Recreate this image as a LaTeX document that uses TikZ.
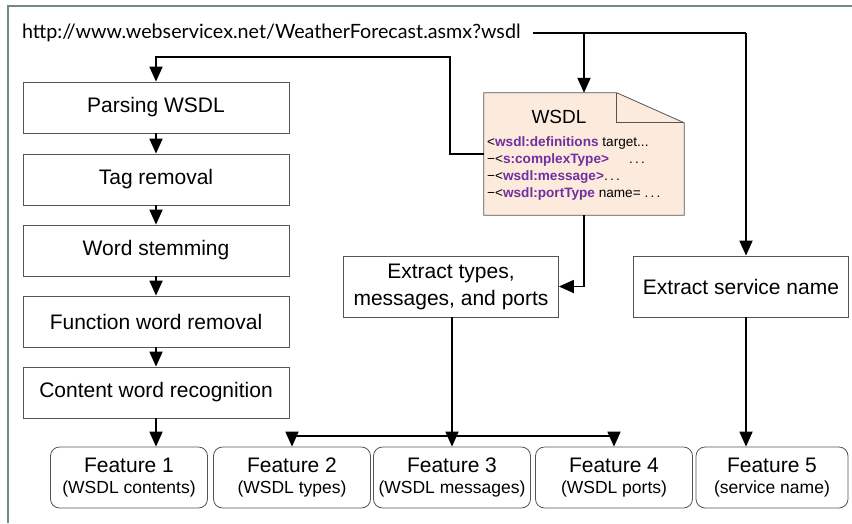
\documentclass[tikz,border=0pt]{standalone}
\usepackage{fontspec}
\setmainfont{Liberation Sans}
\newfontfamily\urlfont{Lato}
\usetikzlibrary{arrows.meta,calc}
\definecolor{framegreen}{RGB}{112,140,120}
\definecolor{docfill}{RGB}{252,234,220}
\definecolor{tagpurple}{RGB}{112,48,160}
\definecolor{boxline}{RGB}{85,85,85}
\newcommand{\tg}[1]{\textbf{\color{tagpurple}#1}}
\begin{document}
\begin{tikzpicture}[x=1pt,y=-1pt,
  procbox/.style={draw=boxline, line width=0.8pt, minimum width=266pt, minimum height=51pt,
    inner sep=0pt, font=\fontsize{21}{24}\selectfont},
  sidebox/.style={draw=boxline, line width=0.8pt, minimum width=215pt, minimum height=61pt,
    inner sep=0pt, align=center, font=\fontsize{21}{27}\selectfont},
  featbox/.style={draw=boxline, line width=0.8pt, rounded corners=9pt, minimum width=157pt,
    minimum height=61pt, inner sep=0pt, align=center},
  arr/.style={line width=1.8pt, -{Triangle[length=15pt,width=13pt]}},
  link/.style={line width=1.8pt}]
\useasboundingbox (0,0) rectangle (852,523);
% frame
\draw[framegreen, line width=1.2pt] (8,523) -- (8,6) -- (852,6);

% source address
\node[anchor=west, inner sep=0pt, outer sep=12pt, font=\urlfont\fontsize{19.7}{22}\selectfont] (url) at (10,33)
  {http://www.webservicex.net/WeatherForecast.asmx?wsdl};

% preprocessing chain
\node[procbox] (parse)   at (156,107.5) {Parsing WSDL};
\node[procbox] (tag)     at (156,179.5) {Tag removal};
\node[procbox] (stem)    at (156,250.5) {Word stemming};
\node[procbox] (func)    at (156,321.5) {Function word removal};
\node[procbox] (content) at (156,392.5) {Content word recognition};

% WSDL document
\node[minimum width=200pt, minimum height=122pt, inner sep=0pt] (doc) at (584,154) {};
\draw[boxline, line width=0.8pt, fill=docfill]
  (doc.north west) -- ++(133,0) -- ($(doc.north east)+(0,30)$) -- (doc.south east) -- (doc.south west) -- cycle;
\draw[boxline, line width=0.8pt] ($(doc.north west)+(133,0)$) -- ++(0,30) -- ($(doc.north east)+(0,30)$);
\node[font=\fontsize{19}{22}\selectfont] (doctitle) at (559,117) {WSDL};
\node[anchor=north west, align=left, inner sep=0pt, font=\fontsize{13.6}{17}\selectfont] (code) at (487,136)
  {<\tg{wsdl:definitions} target...\\
   −<\tg{s:complexType>}\hspace{20pt}.\,.\,.\\
   −<\tg{wsdl:message>}.\,.\,.\\
   −<\tg{wsdl:portType} name= .\,.\,.};

% extraction boxes
\node[sidebox] (ext) at (451,286.5) {Extract types,\\messages, and ports};
\node[sidebox] (svc) at (741,286.5) {Extract service name};

% features
\newcommand{\feat}[2]{{\fontsize{21}{24}\selectfont #1}\\[7pt]{\fontsize{17.5}{20}\selectfont (#2)}}
\node[featbox] (f1) at (129,477.5) {\feat{Feature 1}{WSDL contents}};
\node[featbox] (f2) at (292,477.5) {\feat{Feature 2}{WSDL types}};
\node[featbox] (f3) at (452,477.5) {\feat{Feature 3}{WSDL messages}};
\node[featbox] (f4) at (614,477.5) {\feat{Feature 4}{WSDL ports}};
\node[featbox, minimum width=152pt] (f5) at (772,477.5) {\feat{Feature 5}{service name}};

% connectors
\coordinate (right) at (746,33);
\coordinate (loop) at (450,57);
\coordinate (bar) at (452,436);
\draw[link] (url.east) -- (right);
\draw[arr] (url.east -| doc.north) -- (doc.north);
\draw[arr] (right) -- (right |- svc.north);
\draw[arr] (doc.west) -| (loop) -| (parse.north);
\draw[arr] (parse) -- (tag);
\draw[arr] (tag) -- (stem);
\draw[arr] (stem) -- (func);
\draw[arr] (func) -- (content);
\draw[arr] (doc.south) |- (ext.east);
\draw[arr] (content.south) -- (content.south |- f1.north);
\draw[arr] (ext.south -| bar) -- (bar |- f3.north);
\draw[arr] (bar) -| (f2.north);
\draw[arr] (bar) -| (f4.north);
\draw[arr] (right |- svc.south) -- (right |- f5.north);
\end{tikzpicture}
\end{document}
